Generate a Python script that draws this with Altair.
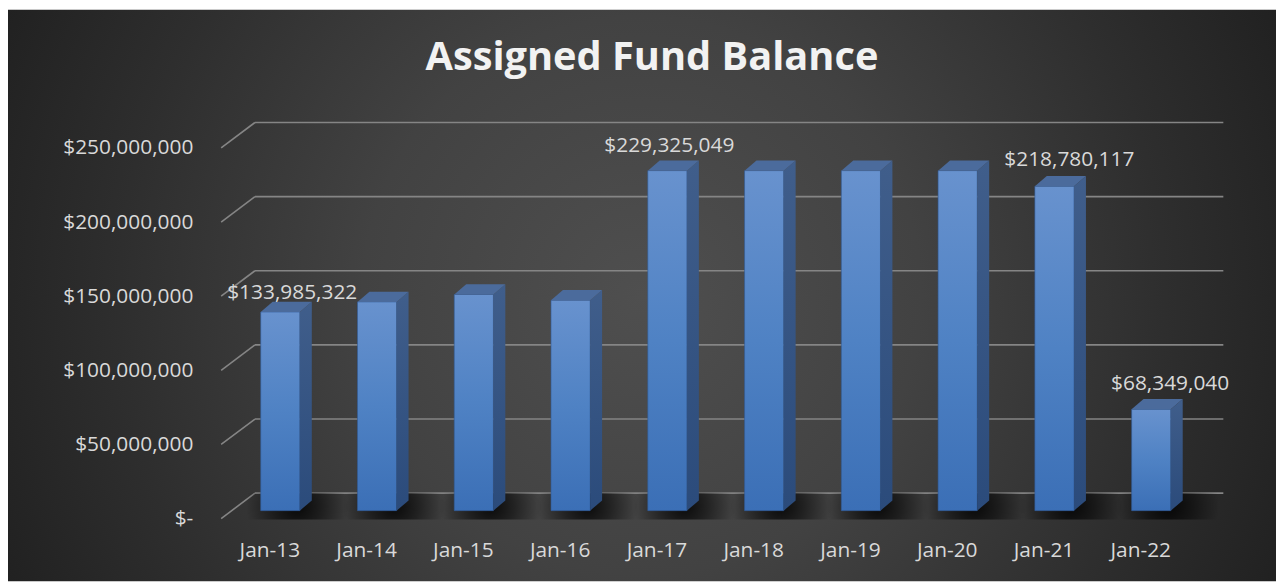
import altair as alt
import pandas as pd

# ---------------- data ----------------
categories = ["Jan-13", "Jan-14", "Jan-15", "Jan-16", "Jan-17",
              "Jan-18", "Jan-19", "Jan-20", "Jan-21", "Jan-22"]
balances = [133985322, 140800000, 145800000, 141900000, 229325049,
            229325049, 229325049, 229325049, 218780117, 68349040]
labelled = ["Jan-13", "Jan-17", "Jan-21", "Jan-22"]
y_ticks = [0, 50000000, 100000000, 150000000, 200000000, 250000000]
title_text = "Assigned Fund Balance"

# ---------------- layout / style ----------------
W, H = 1008, 373
PAD = {"left": 216, "top": 131, "right": 52, "bottom": 71}
STEP = 97.38                 # px per category
YMAX = 250000000
PPM = H / YMAX               # px per dollar
HW = 19.7 / STEP             # half bar width (x units)
DX = 12 / STEP               # bar depth (x units)
DY = 10.3 / PPM              # bar depth (y units)
XMIN = -58 / STEP
XMAX = XMIN + W / STEP
FRONT_X = -59.5 / STEP
BACK_X0 = -25.5 / STEP
BACK_X1 = 949 / STEP
FRONT_DY = -8 / PPM
BACK_DY = 17.6 / PPM
FONT = "Open Sans"
TXT = "#d9d9d9"
label_dx = {"Jan-13": 12, "Jan-17": 2, "Jan-21": 15, "Jan-22": 19}
label_dy = {"Jan-13": -19, "Jan-17": -25, "Jan-21": -26, "Jan-22": -25}

# ---------------- tables ----------------
bars = pd.DataFrame({"cat": categories, "val": balances})
bars["i"] = range(len(categories))
bars["x0"] = bars["i"] - HW
bars["x1"] = bars["i"] + HW
bars["zero"] = 0.0
bars["sx0"] = bars["i"] - HW - 0.15
bars["sx1"] = bars["i"] + HW + 0.5
bars["sy0"] = -6e6
bars["sy1"] = 12e6

side_rows, top_rows = [], []
for i, (c, v) in enumerate(zip(categories, balances)):
    side_rows.append({"cat": c, "x": i + HW, "y": v, "y2": 0.0})
    side_rows.append({"cat": c, "x": i + HW + DX, "y": v + DY, "y2": DY})
    top_rows.append({"cat": c, "x": i - HW, "y": v, "y2": v})
    top_rows.append({"cat": c, "x": i - HW + DX, "y": v + DY, "y2": v})
    top_rows.append({"cat": c, "x": i + HW, "y": v + DY, "y2": v})
    top_rows.append({"cat": c, "x": i + HW + DX, "y": v + DY, "y2": v + DY})
side = pd.DataFrame(side_rows)
top = pd.DataFrame(top_rows)

grid = pd.DataFrame({"v": y_ticks})
grid["gx0"] = BACK_X0
grid["gx1"] = BACK_X1
grid["gy"] = grid["v"] + BACK_DY
grid["fx"] = FRONT_X
grid["fy"] = grid["v"] + FRONT_DY

xs = alt.Scale(domain=[XMIN, XMAX], nice=False, zero=False)
ys = alt.Scale(domain=[0, YMAX], nice=False, zero=False)
cat_expr = "[" + ",".join("'%s'" % c for c in categories) + "][datum.value]"

# ---------------- layers ----------------
bg = alt.Chart(pd.DataFrame({"a": [0]})).mark_rect(
    color=alt.Gradient(
        gradient="radial", x1=0.5, y1=0.5, r1=0, x2=0.5, y2=0.5, r2=0.55,
        stops=[alt.GradientStop(color="#4f4f4f", offset=0),
               alt.GradientStop(color="#424242", offset=0.4),
               alt.GradientStop(color="#2e2e2e", offset=0.75),
               alt.GradientStop(color="#212121", offset=1)])
).encode(
    x=alt.value(-PAD["left"]), x2=alt.value(W + PAD["right"]),
    y=alt.value(-PAD["top"]), y2=alt.value(H + PAD["bottom"])
)

# invisible layer that carries the axes (first layer with x/y fields)
axes = alt.Chart(bars).mark_point(opacity=0).encode(
    x=alt.X("i:Q", scale=xs, axis=alt.Axis(
        values=list(range(len(categories))), labelExpr=cat_expr, title=None,
        grid=False, domain=False, ticks=False, tickSize=0, labelPadding=29,
        labelOffset=-11, labelFlush=False, zindex=5)),
    y=alt.Y("val:Q", scale=ys, axis=alt.Axis(
        values=y_ticks,
        labelExpr="datum.value == 0 ? '$-\u00a0\u00a0' : '$' + format(datum.value, ',')",
        title=None, grid=False, domain=False, ticks=False, tickSize=0,
        labelPadding=30, labelOffset=8, labelFlush=False, zindex=5)),
)

gridlines = alt.Chart(grid).mark_rule(color="#858585", strokeWidth=1.6).encode(
    x=alt.X("gx0:Q", scale=xs), x2="gx1:Q",
    y=alt.Y("gy:Q", scale=ys)
)
diagonals = alt.Chart(grid).mark_rule(color="#858585", strokeWidth=1.6).encode(
    x=alt.X("fx:Q", scale=xs), x2="gx0:Q",
    y=alt.Y("fy:Q", scale=ys), y2="gy:Q"
)

shadows = alt.Chart(bars).mark_rect(
    color=alt.Gradient(
        gradient="radial", x1=0.5, y1=0.5, r1=0, x2=0.5, y2=0.5, r2=0.5,
        stops=[alt.GradientStop(color="rgba(0,0,0,0.85)", offset=0),
               alt.GradientStop(color="rgba(0,0,0,0.5)", offset=0.45),
               alt.GradientStop(color="rgba(0,0,0,0)", offset=1)])
).encode(
    x=alt.X("sx0:Q", scale=xs), x2="sx1:Q",
    y=alt.Y("sy0:Q", scale=ys), y2="sy1:Q"
)

front = alt.Chart(bars).mark_bar(
    color=alt.Gradient(
        gradient="linear", x1=0, y1=0, x2=0, y2=1,
        stops=[alt.GradientStop(color="#6892ce", offset=0),
               alt.GradientStop(color="#4f82c4", offset=0.5),
               alt.GradientStop(color="#3b6fb6", offset=1)]),
    stroke="#2f5a96", strokeWidth=0.6
).encode(
    x=alt.X("x0:Q", scale=xs), x2="x1:Q",
    y=alt.Y("val:Q", scale=ys), y2="zero:Q"
)

side_face = alt.Chart(side).mark_area(
    color=alt.Gradient(
        gradient="linear", x1=0, y1=0, x2=0, y2=1,
        stops=[alt.GradientStop(color="#405e8b", offset=0),
               alt.GradientStop(color="#2b4b7b", offset=1)])
).encode(
    x=alt.X("x:Q", scale=xs),
    y=alt.Y("y:Q", scale=ys), y2="y2:Q",
    detail="cat:N"
)

top_face = alt.Chart(top).mark_area(color="#4b6b9c").encode(
    x=alt.X("x:Q", scale=xs),
    y=alt.Y("y:Q", scale=ys), y2="y2:Q",
    detail="cat:N"
)

value_labels = []
for c in labelled:
    value_labels.append(
        alt.Chart(bars).transform_filter(alt.datum.cat == c).mark_text(
            font=FONT, fontSize=21, color=TXT, align="center", baseline="middle",
            dx=label_dx[c], dy=label_dy[c]
        ).encode(
            x=alt.X("i:Q", scale=xs),
            y=alt.Y("val:Q", scale=ys),
            text=alt.Text("val:Q", format="$,.0f")
        )
    )

title = alt.Chart(pd.DataFrame({"t": [title_text]})).mark_text(
    font=FONT, fontSize=40, fontWeight="bold", color="#f2f2f2",
    align="center", baseline="alphabetic"
).encode(x=alt.value(432), y=alt.value(-70), text="t:N")

chart = alt.layer(
    bg, axes, gridlines, diagonals, shadows, front, side_face, top_face,
    *value_labels, title
).properties(
    width=W, height=H,
    autosize=alt.AutoSizeParams(type="none"),
    padding=PAD
).configure_view(stroke=None).configure_axis(
    labelFont=FONT, labelFontSize=21, labelColor=TXT
)

chart.save("out.html", embed_options={"renderer": "svg", "actions": False})
